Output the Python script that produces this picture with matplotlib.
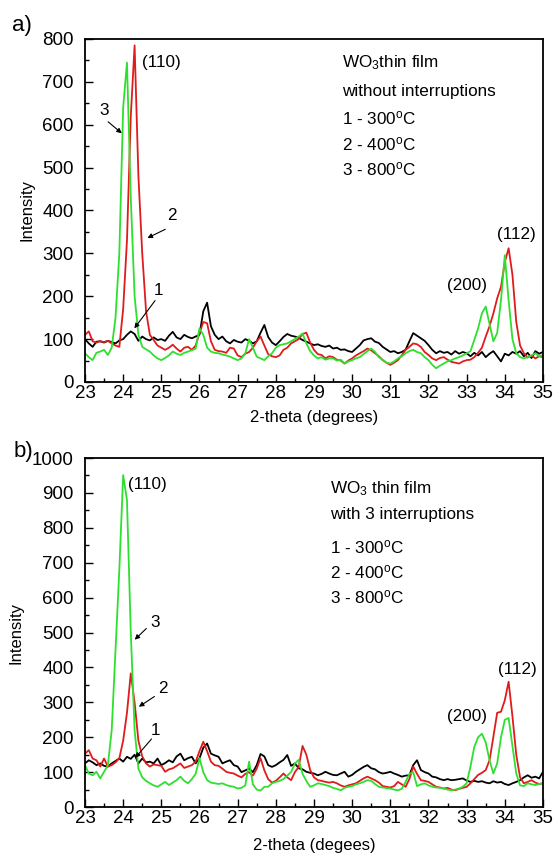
import matplotlib
matplotlib.use("Agg")
import matplotlib.pyplot as plt
import numpy as np

plt.rcParams['font.family'] = ['Liberation Sans', 'DejaVu Sans']
plt.rcParams['mathtext.fontset'] = 'custom'
plt.rcParams['mathtext.rm'] = 'Liberation Sans'
plt.rcParams['mathtext.it'] = 'Liberation Sans'

# 2-theta grid (degrees), 0.1 step
two_theta = np.round(np.arange(23.0, 35.05, 0.1), 1)

# ---- panel a) without interruptions
a_300 = [100, 90, 82, 94, 95, 92, 96, 93, 90, 97,
         100, 110, 118, 112, 96, 106, 100, 97, 104, 98,
         100, 96, 108, 117, 104, 100, 110, 105, 102, 106,
         110, 165, 185, 130, 110, 100, 106, 95, 90, 98,
         94, 92, 100, 96, 90, 95, 115, 133, 105, 92,
         86, 95, 105, 112, 108, 106, 103, 98, 94, 90,
         86, 88, 84, 82, 85, 78, 80, 75, 76, 72,
         70, 78, 86, 97, 100, 102, 94, 91, 82, 76,
         70, 72, 67, 70, 75, 95, 114, 108, 102, 96,
         86, 75, 67, 72, 68, 70, 64, 72, 66, 70,
         67, 60, 68, 62, 70, 58, 66, 72, 60, 48,
         66, 62, 70, 66, 72, 60, 68, 56, 72, 66, 70]
a_400 = [110, 118, 95, 92, 95, 93, 96, 90, 85, 82,
         170, 330, 620, 785, 480, 300, 165, 110, 98, 85,
         80, 75, 80, 87, 78, 71, 80, 82, 75, 85,
         114, 140, 137, 95, 75, 72, 71, 68, 80, 78,
         62, 58, 66, 70, 80, 95, 106, 85, 65, 60,
         58, 62, 75, 80, 90, 95, 100, 112, 115, 92,
         75, 65, 63, 55, 60, 58, 52, 50, 43, 50,
         55, 62, 67, 72, 78, 74, 67, 60, 51, 45,
         40, 45, 51, 62, 75, 82, 90, 88, 82, 70,
         63, 55, 51, 56, 58, 52, 47, 45, 43, 48,
         51, 52, 58, 68, 80, 106, 130, 160, 195, 222,
         280, 312, 250, 140, 85, 67, 57, 62, 55, 60, 58]
a_800 = [67, 58, 51, 68, 71, 75, 63, 80, 150, 300,
         640, 745, 430, 200, 110, 82, 76, 71, 62, 55,
         51, 56, 62, 71, 66, 63, 68, 71, 74, 78,
         125, 110, 80, 71, 68, 67, 64, 62, 59, 55,
         51, 55, 67, 100, 80, 59, 55, 51, 60, 67,
         80, 86, 88, 90, 95, 100, 106, 113, 90, 72,
         62, 55, 58, 52, 55, 55, 50, 52, 43, 48,
         51, 55, 58, 65, 72, 78, 70, 58, 52, 45,
         43, 48, 55, 60, 67, 72, 75, 70, 67, 58,
         51, 40, 32, 38, 43, 48, 51, 55, 58, 62,
         67, 72, 98, 125, 160, 176, 135, 95, 114, 191,
         296, 190, 100, 67, 58, 55, 58, 62, 67, 60, 63]

# ---- panel b) with 3 interruptions
b_300 = [125, 134, 128, 120, 125, 118, 116, 125, 132, 139,
         130, 144, 138, 150, 125, 139, 128, 130, 125, 139,
         120, 126, 134, 128, 145, 153, 134, 140, 144, 125,
         140, 170, 182, 153, 148, 144, 125, 130, 134, 120,
         116, 100, 105, 110, 100, 120, 152, 145, 120, 115,
         120, 128, 135, 149, 118, 125, 111, 108, 101, 98,
         96, 91, 95, 101, 96, 92, 91, 96, 101, 87,
         92, 101, 108, 115, 120, 111, 108, 100, 96, 98,
         101, 96, 92, 87, 90, 91, 120, 134, 106, 100,
         96, 87, 85, 80, 77, 80, 77, 78, 80, 82,
         76, 72, 75, 72, 74, 70, 68, 74, 70, 72,
         66, 63, 68, 72, 77, 85, 91, 84, 87, 82, 101]
b_400 = [153, 163, 139, 134, 116, 139, 116, 120, 128, 140,
         190, 270, 383, 300, 190, 145, 125, 116, 122, 120,
         118, 101, 108, 111, 118, 125, 112, 116, 120, 130,
         160, 187, 160, 130, 120, 118, 110, 101, 98, 96,
         90, 85, 95, 100, 90, 110, 140, 105, 80, 70,
         75, 85, 96, 85, 77, 100, 115, 175, 150, 106,
         85, 77, 75, 72, 70, 72, 68, 62, 58, 62,
         65, 68, 75, 82, 87, 82, 77, 70, 60, 58,
         56, 60, 72, 65, 58, 80, 116, 95, 77, 75,
         72, 65, 58, 56, 53, 55, 50, 48, 52, 55,
         58, 68, 80, 92, 98, 106, 134, 201, 270, 273,
         306, 359, 260, 150, 85, 68, 72, 77, 70, 66, 68]
b_800 = [120, 96, 91, 101, 82, 101, 120, 220, 450, 680,
         951, 880, 500, 220, 110, 85, 75, 68, 62, 58,
         65, 72, 63, 70, 77, 87, 75, 68, 80, 95,
         140, 100, 77, 70, 68, 66, 68, 63, 60, 58,
         53, 55, 62, 130, 65, 50, 47, 58, 58, 68,
         72, 75, 80, 90, 100, 125, 135, 95, 75, 58,
         62, 68, 66, 63, 60, 55, 52, 48, 55, 58,
         60, 65, 68, 72, 77, 75, 66, 58, 56, 54,
         53, 50, 48, 52, 72, 95, 100, 60, 65, 68,
         62, 58, 56, 55, 53, 50, 48, 50, 53, 58,
         68, 116, 172, 200, 210, 185, 134, 96, 125, 200,
         250, 255, 175, 96, 62, 60, 68, 65, 63, 66, 68]

black = 'black'
red = '#e01b1b'
green = '#2ee02e'

fig = plt.figure(figsize=(5.54, 8.59), dpi=100)
ax1 = fig.add_axes([0.1534, 0.5553, 0.8267, 0.3993])
ax2 = fig.add_axes([0.1534, 0.0605, 0.8267, 0.4063])

for ax, s1, s2, s3 in [(ax1, a_300, a_400, a_800), (ax2, b_300, b_400, b_800)]:
    ax.plot(two_theta, s1, color=black, lw=1.3)
    ax.plot(two_theta, s2, color=red, lw=1.3)
    ax.plot(two_theta, s3, color=green, lw=1.3)
    ax.set_xlim(23, 35)
    ax.set_xticks(np.arange(23, 36, 1))
    ax.set_xticks(np.arange(23, 35.01, 0.5), minor=True)
    ax.tick_params(axis='both', which='both', direction='in', labelsize=13.5,
                   top=False, right=False)
    ax.tick_params(axis='both', which='major', length=6, width=1)
    ax.tick_params(axis='both', which='minor', length=3, width=1)
    ax.tick_params(axis='x', pad=2)
    ax.tick_params(axis='y', pad=8)
    for sp in ax.spines.values():
        sp.set_linewidth(1.3)
    ax.set_ylabel("Intensity", fontsize=12, labelpad=6)

ax1.set_ylim(0, 800)
ax1.set_yticks(np.arange(0, 801, 100))
ax1.set_yticks(np.arange(0, 801, 50), minor=True)
ax1.set_xlabel("2-theta (degrees)", fontsize=12, labelpad=6)

ax2.set_ylim(0, 1000)
ax2.set_yticks(np.arange(0, 1001, 100))
ax2.set_yticks(np.arange(0, 1001, 50), minor=True)
ax2.set_xlabel("2-theta (degees)", fontsize=12, labelpad=8)

arrow = dict(arrowstyle='-|>', color='k', lw=0.8, mutation_scale=7)
fs = 12.3

# panel a) annotations
ax1.text(24.5, 745, "(110)", fontsize=fs, va='center', ha='left')
ax1.text(33.0, 225, "(200)", fontsize=fs, va='center', ha='center')
ax1.text(34.3, 343, "(112)", fontsize=fs, va='center', ha='center')
ax1.text(23.5, 634, "3", fontsize=fs, va='center', ha='center')
ax1.annotate('', xy=(24.02, 576), xytext=(23.55, 611), arrowprops=arrow)
ax1.text(25.28, 389, "2", fontsize=fs, va='center', ha='center')
ax1.annotate('', xy=(24.57, 333), xytext=(25.17, 359), arrowprops=arrow)
ax1.text(24.93, 214, "1", fontsize=fs, va='center', ha='center')
ax1.annotate('', xy=(24.25, 120), xytext=(24.88, 195), arrowprops=arrow)

ax1.text(29.73, 746, r"WO$_{3}$thin film", fontsize=fs, va='center')
ax1.text(29.73, 678, "without interruptions", fontsize=fs, va='center')
ax1.text(29.73, 614, r"1 - 300$^{\mathrm{o}}$C", fontsize=fs, va='center')
ax1.text(29.73, 555, r"2 - 400$^{\mathrm{o}}$C", fontsize=fs, va='center')
ax1.text(29.73, 497, r"3 - 800$^{\mathrm{o}}$C", fontsize=fs, va='center')

# panel b) annotations
ax2.text(24.13, 924, "(110)", fontsize=fs, va='center', ha='left')
ax2.text(33.02, 259, "(200)", fontsize=fs, va='center', ha='center')
ax2.text(34.33, 393, "(112)", fontsize=fs, va='center', ha='center')
ax2.text(24.85, 530, "3", fontsize=fs, va='center', ha='center')
ax2.annotate('', xy=(24.25, 474), xytext=(24.66, 517), arrowprops=arrow)
ax2.text(25.03, 340, "2", fontsize=fs, va='center', ha='center')
ax2.annotate('', xy=(24.35, 283), xytext=(24.88, 321), arrowprops=arrow)
ax2.text(24.86, 220, "1", fontsize=fs, va='center', ha='center')
ax2.annotate('', xy=(24.27, 135), xytext=(24.79, 201), arrowprops=arrow)

ax2.text(29.42, 911, r"WO$_{3}$ thin film", fontsize=fs, va='center')
ax2.text(29.42, 837, "with 3 interruptions", fontsize=fs, va='center')
ax2.text(29.42, 745, r"1 - 300$^{\mathrm{o}}$C", fontsize=fs, va='center')
ax2.text(29.42, 673, r"2 - 400$^{\mathrm{o}}$C", fontsize=fs, va='center')
ax2.text(29.42, 602, r"3 - 800$^{\mathrm{o}}$C", fontsize=fs, va='center')

fig.text(22 / 554, 1 - 25 / 859, "a)", fontsize=16, ha='center', va='center')
fig.text(23 / 554, 1 - 452 / 859, "b)", fontsize=16, ha='center', va='center')

fig.savefig("out.png", dpi=100)
